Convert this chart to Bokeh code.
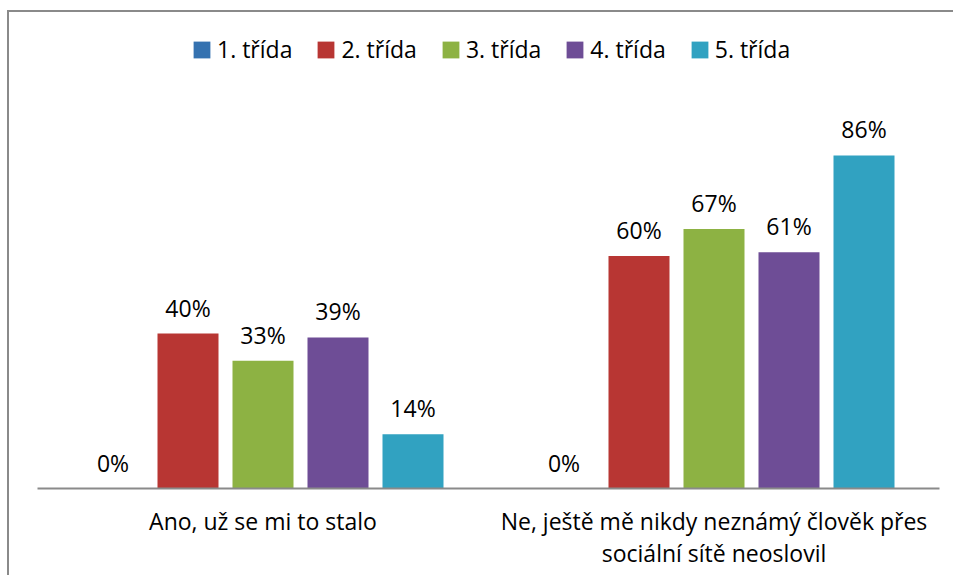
from bokeh.plotting import figure
from bokeh.models import FactorRange, Range1d, ColumnDataSource, Legend, LegendItem
from bokeh.transform import dodge
from bokeh.embed import file_html
from bokeh.resources import INLINE
from bokeh.core.properties import value

categories = ["Ano, už se mi to stalo",
              "Ne, ještě mě nikdy neznámý člověk přes\nsociální sítě neoslovil"]
series_names = ["1. třída", "2. třída", "3. třída", "4. třída", "5. třída"]
trida1 = [0, 0]
trida2 = [40, 60]
trida3 = [33, 67]
trida4 = [39, 61]
trida5 = [14, 86]
series_values = [trida1, trida2, trida3, trida4, trida5]
colors = ["#3572B0", "#B83633", "#8DB243", "#6E4D96", "#31A2C1"]

FONT = "Open Sans"
FS = "23px"

p = figure(x_range=FactorRange(factors=categories, range_padding=0),
           y_range=Range1d(0, 122.9),
           width=946, height=565, output_backend="svg", toolbar_location=None,
           min_border_left=28, min_border_right=16, min_border_top=0, min_border_bottom=89,
           outline_line_color=None, background_fill_color="white", border_fill_color="white",
           styles={"margin-top": "10px", "margin-left": "7px",
                   "border-top": "2px solid #8a8a8a", "border-left": "2px solid #8a8a8a"})

pitch = 75 / 451
bw = 61 / 451
items = []
for i, (name, vals, col) in enumerate(zip(series_names, series_values, colors)):
    src = ColumnDataSource(dict(cat=categories, v=vals, lab=[f"{v}%" for v in vals]))
    off = (i - 2) * pitch
    r = p.vbar(x=dodge("cat", off, range=p.x_range), top="v", width=bw, source=src,
               fill_color=col, line_color=None)
    items.append(LegendItem(label=name, renderers=[r]))
    p.text(x=dodge("cat", off, range=p.x_range), y="v", text="lab", source=src,
           text_align="center", text_baseline="alphabetic", y_offset=-26,
           text_font=value(FONT), text_font_size=FS, text_color="black")

legend = Legend(items=items, orientation="horizontal", location=(154, 423),
                border_line_color=None, background_fill_alpha=0, padding=0, margin=0,
                glyph_width=21, glyph_height=21, label_standoff=5, spacing=23,
                label_text_font=FONT, label_text_font_size=FS, label_text_color="black")
p.add_layout(legend, "center")

p.yaxis.visible = False
p.xgrid.grid_line_color = None
p.ygrid.grid_line_color = None
p.xaxis.axis_line_color = "#8a8a8a"
p.xaxis.axis_line_width = 2
p.xaxis.major_tick_line_color = None
p.xaxis.minor_tick_line_color = None
p.xaxis.major_label_standoff = 10
p.xaxis.major_label_text_font = FONT
p.xaxis.major_label_text_font_size = FS
p.xaxis.major_label_text_line_height = 1.0
p.xaxis.major_label_text_color = "black"

open("out.html", "w").write(file_html(p, INLINE))
